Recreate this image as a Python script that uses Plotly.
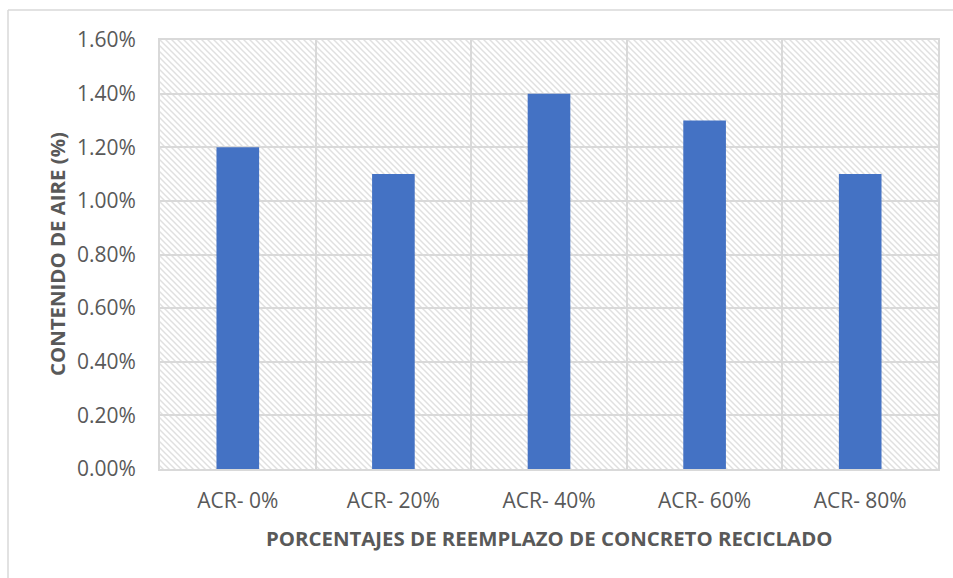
import base64
import plotly.graph_objects as go

# Data: air content for each recycled-concrete replacement level
categories = ["ACR- 0%", "ACR- 20%", "ACR- 40%", "ACR- 60%", "ACR- 80%"]
air_content = [0.012, 0.011, 0.014, 0.013, 0.011]
y_ticks = [0.000, 0.002, 0.004, 0.006, 0.008, 0.010, 0.012, 0.014, 0.016]

# Page and plot-area geometry (pixels)
W, H = 953, 578
M_L, M_R, M_T, M_B = 160, 15, 40, 109
PW, PH = W - M_L - M_R, H - M_T - M_B

TEXT = "#595959"
GRID = "#d9d9d9"
BAR = "#4472C4"
FONT = "Open Sans"


def px_x(p):
    return (p - M_L) / PW


def px_y(p):
    return (H - M_B - p) / PH


# Diagonal hatch used as the plot-area fill
step = 6
hatch_svg = (
    f'<svg xmlns="http://www.w3.org/2000/svg" width="{PW}" height="{PH}">'
    f'<defs><pattern id="h" width="{step}" height="{step}" patternUnits="userSpaceOnUse">'
    f'<path d="M-1,-1 L{step+1},{step+1} M{-step-1},-1 L1,{step+1} M{step-1},-1 L{2*step+1},{step+1}" '
    f'stroke="#e0e0e0" stroke-width="1.5"/></pattern></defs>'
    f'<rect width="100%" height="100%" fill="white"/>'
    f'<rect width="100%" height="100%" fill="url(#h)"/></svg>'
)
hatch_uri = "data:image/svg+xml;base64," + base64.b64encode(hatch_svg.encode()).decode()

fig = go.Figure(
    go.Bar(
        x=categories,
        y=air_content,
        marker=dict(color=BAR, line=dict(width=0)),
        hoverinfo="x+y",
    )
)

fig.update_layout(
    width=W,
    height=H,
    margin=dict(l=M_L, r=M_R, t=M_T, b=M_B, pad=0),
    paper_bgcolor="white",
    plot_bgcolor="rgba(0,0,0,0)",
    bargap=0.726,
    showlegend=False,
    font=dict(family=FONT, color=TEXT, size=21),
    images=[
        dict(
            source=hatch_uri,
            xref="paper", yref="paper",
            x=0, y=1, sizex=1, sizey=1,
            xanchor="left", yanchor="top",
            sizing="stretch",
            layer="below",
        )
    ],
    shapes=[
        # outer chart frame (top and left edges visible)
        dict(type="line", xref="paper", yref="paper",
             x0=px_x(8), x1=px_x(W + 20), y0=px_y(10), y1=px_y(10),
             line=dict(color=GRID, width=1.5)),
        dict(type="line", xref="paper", yref="paper",
             x0=px_x(8), x1=px_x(8), y0=px_y(10), y1=px_y(H + 20),
             line=dict(color=GRID, width=1.5)),
    ],
    annotations=[
        dict(text="<b>PORCENTAJES DE REEMPLAZO DE CONCRETO RECICLADO</b>",
             xref="paper", yref="paper", x=0.5, y=px_y(538),
             xanchor="center", yanchor="middle", showarrow=False,
             font=dict(family=FONT, size=20.4, color=TEXT)),
        dict(text="<b>CONTENIDO DE AIRE (%)</b>",
             xref="paper", yref="paper", x=px_x(56.5), y=px_y(253.5),
             xanchor="center", yanchor="middle", textangle=-90, showarrow=False,
             font=dict(family=FONT, size=20.4, color=TEXT)),
    ],
)

fig.update_xaxes(
    type="category",
    showgrid=True,
    gridcolor=GRID,
    gridwidth=2,
    tickson="boundaries",
    ticks="",
    showline=True,
    linecolor=GRID,
    linewidth=2,
    mirror=True,
    ticklabelstandoff=12,
    tickfont=dict(family=FONT, size=21, color=TEXT),
)

fig.update_yaxes(
    range=[0, 0.016],
    tickvals=y_ticks,
    tickformat=".2%",
    showgrid=True,
    gridcolor=GRID,
    gridwidth=2,
    zeroline=False,
    ticks="",
    showline=True,
    linecolor=GRID,
    linewidth=2,
    mirror=True,
    ticklabelstandoff=18,
    tickfont=dict(family=FONT, size=21, color=TEXT),
)

fig.write_html("out.html")
